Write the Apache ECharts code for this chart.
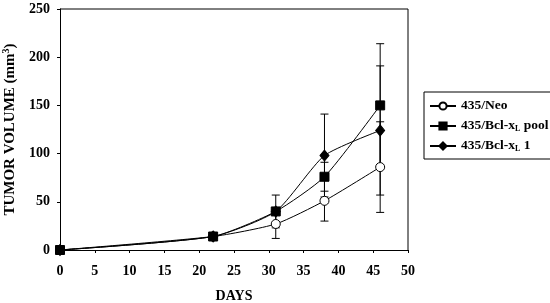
<!DOCTYPE html>
<html><head><meta charset="utf-8">
<script src="https://cdn.jsdelivr.net/npm/echarts@6/dist/echarts.min.js"></script>
<style>html,body{margin:0;padding:0;background:#fff}#c{width:550px;height:303px}</style>
</head><body><div id="c"></div>
<script>
const days = [0, 22, 31, 38, 46];
const neo = [0, 14, 27, 51, 86];
const neoErr = [0, 0, 15, 21, 47];
const pool = [0, 14, 40, 76, 150];
const poolErr = [0, 0, 17, 15, 64];
const bcl1 = [0, 14, 40, 98, 124];
const bcl1Err = [0, 0, 0, 43, 67];
const xTicks = [0, 5, 10, 15, 20, 25, 30, 35, 40, 45, 50];
const yTicks = [0, 50, 100, 150, 200, 250];
const seriesNames = ['435/Neo', '435/Bcl-xL pool', '435/Bcl-xL 1'];

const font = '"Liberation Serif","Times New Roman",serif';
function pts(v){ return days.map((d,i)=>[d, v[i]]); }
function errData(v, e){ return days.map((d,i)=>[d, v[i]-e[i], v[i]+e[i]]).filter((r,i)=>e[i]>0); }
function errSeries(v,e){
  return {type:'custom', data: errData(v,e), z:1, silent:true,
    renderItem(params, api){
      const x = api.value(0);
      const lo = api.coord([x, api.value(1)]);
      const hi = api.coord([x, api.value(2)]);
      const w = 4;
      const st = {stroke:'#000', lineWidth:1};
      return {type:'group', children:[
        {type:'line', shape:{x1:lo[0],y1:lo[1],x2:hi[0],y2:hi[1]}, style:st},
        {type:'line', shape:{x1:lo[0]-w,y1:lo[1],x2:lo[0]+w,y2:lo[1]}, style:st},
        {type:'line', shape:{x1:hi[0]-w,y1:hi[1],x2:hi[0]+w,y2:hi[1]}, style:st}
      ]};
    }};
}
const lineStyle = {color:'#000', width:1};
const chart = echarts.init(document.getElementById('c'));
chart.setOption({
  animation:false,
  grid:{left:60, right:142, top:9, bottom:53, containLabel:false, outerBoundsMode:'none'},
  xAxis:{type:'value', min:0, max:50, interval:5,
    axisLine:{lineStyle:{color:'#000'}}, axisTick:{show:true, length:3, lineStyle:{color:'#000'}},
    splitLine:{show:false},
    axisLabel:{color:'#000', fontFamily:font, fontWeight:'bold', fontSize:14, margin:14,
      formatter:v=>xTicks.includes(v)?String(v):''},
    name:'DAYS', nameLocation:'middle', nameGap:39,
    nameTextStyle:{color:'#000', fontFamily:font, fontWeight:'bold', fontSize:14}},
  yAxis:{type:'value', min:0, max:250, interval:50,
    axisLine:{show:true, lineStyle:{color:'#000'}}, axisTick:{show:true, length:3, lineStyle:{color:'#000'}},
    splitLine:{show:false},
    axisLabel:{color:'#000', fontFamily:font, fontWeight:'bold', fontSize:14, margin:10,
      formatter:v=>yTicks.includes(v)?String(v):''},
    name:'TUMOR VOLUME (mm{sup|3})', nameLocation:'middle', nameGap:41, nameRotate:90,
    nameTextStyle:{color:'#000', fontFamily:font, fontWeight:'bold', fontSize:15,
      rich:{sup:{fontSize:10, fontFamily:font, fontWeight:'bold', color:'#000', verticalAlign:'top', padding:[0,0,8,0]}}}},
  graphic:[
    {type:'line', shape:{x1:60,y1:9,x2:408,y2:9}, style:{stroke:'#000', lineWidth:1}},
    {type:'line', shape:{x1:408,y1:9,x2:408,y2:250}, style:{stroke:'#000', lineWidth:1}}
  ],
  legend:{orient:'vertical', left:424, top:92, padding:[7,6,6,5], itemGap:6,
    borderColor:'#000', borderWidth:1, itemWidth:26, itemHeight:9,
    data:seriesNames,
    formatter:n=>n.replace('-xL','-x{sub|L}'),
    textStyle:{color:'#000', fontFamily:font, fontWeight:'bold', fontSize:13.5,
      rich:{sub:{fontSize:8, fontFamily:font, fontWeight:'bold', color:'#000', verticalAlign:'bottom', padding:[6,0,0,0]}}}},
  series:[
    errSeries(neo, neoErr), errSeries(pool, poolErr), errSeries(bcl1, bcl1Err),
    {name:seriesNames[0], type:'line', data:pts(neo), smooth:0.2, symbol:'circle', symbolSize:9, z:3,
      lineStyle, itemStyle:{color:'#fff', borderColor:'#000', borderWidth:1}},
    {name:seriesNames[1], type:'line', data:pts(pool), smooth:0.2, symbol:'rect', symbolSize:9, z:4,
      lineStyle, itemStyle:{color:'#000', borderColor:'#000', borderWidth:1}},
    {name:seriesNames[2], type:'line', data:pts(bcl1), smooth:0.2, symbol:'diamond', symbolSize:[9,11], z:5,
      lineStyle, itemStyle:{color:'#000', borderColor:'#000', borderWidth:1}}
  ]
});
</script></body></html>
